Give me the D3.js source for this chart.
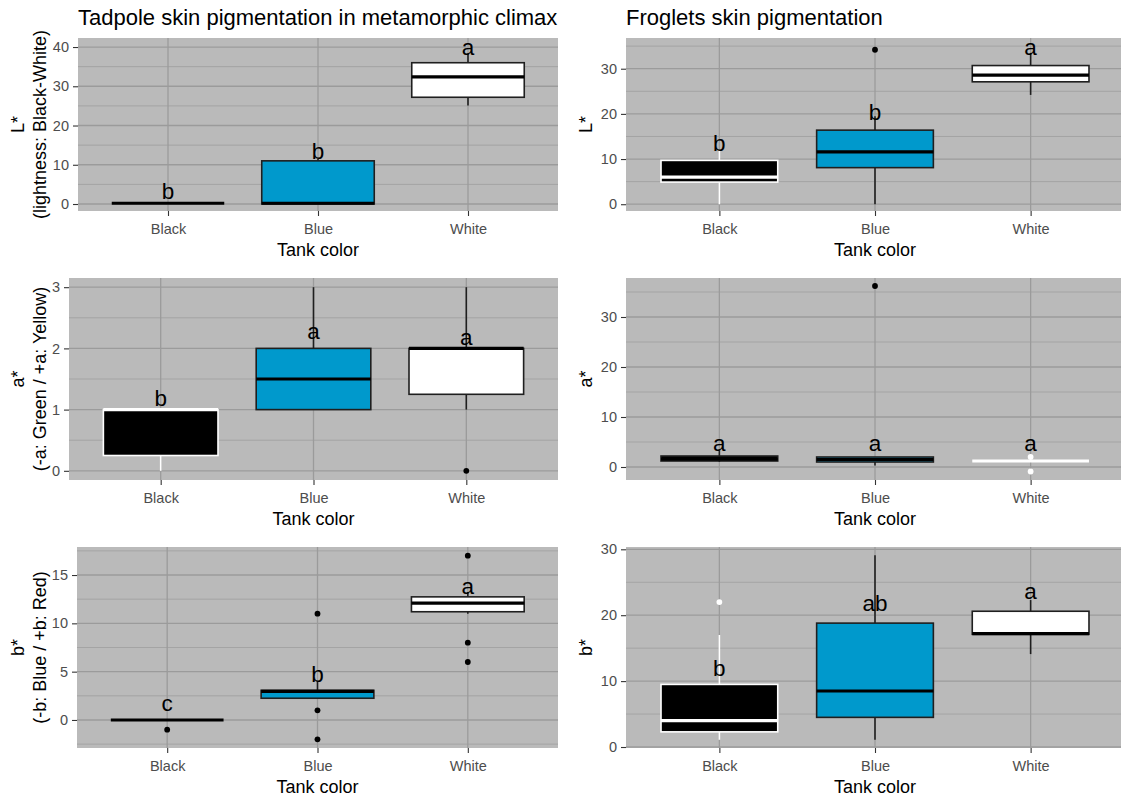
<!DOCTYPE html>
<html>
<head>
<meta charset="utf-8">
<script src="https://cdn.jsdelivr.net/npm/d3@7"></script>
<style>
  body { margin: 0; background: #ffffff; }
  svg { display: block; font-family: "Liberation Sans", Arial, Helvetica, sans-serif; }
</style>
</head>
<body>
<svg id="chart" width="1121" height="798"></svg>
<script>
// ---- data -------------------------------------------------------------
const tankColors = ["Black", "Blue", "White"];
const tankFills  = ["#000000", "#0099CC", "#FFFFFF"];

// each box: [lower whisker, Q1, median, Q3, upper whisker]
const tadpoleL_box     = [[0.2, 0.2, 0.2, 0.2, 0.2], [0, 0, 0.2, 11, 11.5], [25.1, 27.2, 32.4, 36.0, 38.3]];
const tadpoleL_out     = [[], [], []];
const tadpoleL_letters = ["b", "b", "a"];
const tadpoleL_letterY = [1.2, 11.4, 37.9];
const tadpoleL_ticks   = [0, 10, 20, 30, 40];

const frogletL_box     = [[0, 4.9, 6.0, 9.7, 12.0], [0, 8.1, 11.6, 16.4, 19.5], [24.2, 27.1, 28.6, 30.7, 33.5]];
const frogletL_out     = [[], [34.2], []];
const frogletL_letters = ["b", "b", "a"];
const frogletL_letterY = [11.85, 18.7, 33.1];
const frogletL_ticks   = [0, 10, 20, 30];

const tadpoleA_box     = [[0, 0.25, 1.0, 1.0, 1.0], [1.0, 1.0, 1.5, 2.0, 3.0], [1.0, 1.25, 2.0, 2.0, 3.0]];
const tadpoleA_out     = [[], [], [0]];
const tadpoleA_letters = ["b", "a", "a"];
const tadpoleA_letterY = [1.06, 2.15, 2.06];
const tadpoleA_ticks   = [0, 1, 2, 3];

const frogletA_box     = [[1.0, 1.2, 1.6, 2.2, 3.3], [0.3, 1.0, 1.5, 2.0, 2.0], [1.2, 1.2, 1.2, 1.2, 1.2]];
const frogletA_out     = [[], [36.2], [2.0, -0.9]];
const frogletA_letters = ["a", "a", "a"];
const frogletA_letterY = [3.2, 3.2, 3.2];
const frogletA_ticks   = [0, 10, 20, 30];

const tadpoleB_box     = [[0, 0, 0, 0, 0], [2.25, 2.25, 2.95, 3.07, 4.0], [11.0, 11.2, 12.1, 12.74, 13.25]];
const tadpoleB_out     = [[-1], [11, 1, -2], [17, 8, 6]];
const tadpoleB_letters = ["c", "b", "a"];
const tadpoleB_letterY = [0.96, 3.93, 13.0];
const tadpoleB_ticks   = [0, 5, 10, 15];

const frogletB_box     = [[1.1, 2.3, 4.0, 9.5, 17.0], [1.1, 4.5, 8.5, 18.8, 29.1], [14.1, 17.1, 17.2, 20.6, 22.3]];
const frogletB_out     = [[22], [], []];
const frogletB_letters = ["b", "ab", "a"];
const frogletB_letterY = [10.7, 20.7, 22.5];
const frogletB_ticks   = [0, 10, 20, 30];

// ---- styling & layout -------------------------------------------------
const INK = "#1F1F1F";
const PAPER = "#FFFFFF";
const PANEL_BG = "#BABABA";
const GRID_MAJOR = "#9B9B9B";
const GRID_MINOR = "#A4A4A4";

const panels = [
  { title: "Tadpole skin pigmentation in metamorphic climax", yTitle: ["L*", "(lightness: Black-White)"],
    box: tadpoleL_box, out: tadpoleL_out, letters: tadpoleL_letters, letterY: tadpoleL_letterY, ticks: tadpoleL_ticks,
    domain: [-1.78, 42.3], frame: { left: 78, right: 558, top: 38, bottom: 211 }, stroke: [INK, INK, INK] },
  { title: "Froglets skin pigmentation", yTitle: ["L*"],
    box: frogletL_box, out: frogletL_out, letters: frogletL_letters, letterY: frogletL_letterY, ticks: frogletL_ticks,
    domain: [-1.5, 36.8], frame: { left: 626, right: 1124, top: 38, bottom: 211 }, stroke: [PAPER, INK, INK] },
  { title: null, yTitle: ["a*", "(-a: Green / +a: Yellow)"],
    box: tadpoleA_box, out: tadpoleA_out, letters: tadpoleA_letters, letterY: tadpoleA_letterY, ticks: tadpoleA_ticks,
    domain: [-0.15, 3.15], frame: { left: 69, right: 558, top: 278, bottom: 480 }, stroke: [PAPER, INK, INK] },
  { title: null, yTitle: ["a*"],
    box: frogletA_box, out: frogletA_out, letters: frogletA_letters, letterY: frogletA_letterY, ticks: frogletA_ticks,
    domain: [-2.6, 37.8], frame: { left: 626, right: 1124, top: 278, bottom: 480 }, stroke: [INK, INK, PAPER] },
  { title: null, yTitle: ["b*", "(-b: Blue / +b: Red)"],
    box: tadpoleB_box, out: tadpoleB_out, letters: tadpoleB_letters, letterY: tadpoleB_letterY, ticks: tadpoleB_ticks,
    domain: [-2.9, 17.9], frame: { left: 77, right: 558, top: 547, bottom: 748 }, stroke: [INK, INK, INK] },
  { title: null, yTitle: ["b*"],
    box: frogletB_box, out: frogletB_out, letters: frogletB_letters, letterY: frogletB_letterY, ticks: frogletB_ticks,
    domain: [-0.15, 30.35], frame: { left: 626, right: 1124, top: 547, bottom: 748 }, stroke: [PAPER, INK, INK] }
];

const svg = d3.select("#chart");

panels.forEach((p, i) => {
  const f = p.frame;
  const g = svg.append("g").attr("class", "panel-" + i);

  const x = d3.scalePoint().domain(tankColors).range([f.left, f.right]).padding(0.6);
  const y = d3.scaleLinear().domain(p.domain).range([f.bottom, f.top]);

  const clipId = "clip-" + i;
  g.append("clipPath").attr("id", clipId)
    .append("rect").attr("x", f.left).attr("y", f.top)
    .attr("width", f.right - f.left).attr("height", f.bottom - f.top);

  const plot = g.append("g").attr("clip-path", `url(#${clipId})`);

  plot.append("rect")
    .attr("x", f.left).attr("y", f.top)
    .attr("width", f.right - f.left).attr("height", f.bottom - f.top)
    .attr("fill", PANEL_BG);

  // minor grid lines half-way between major ticks
  const step = p.ticks[1] - p.ticks[0];
  const minors = [];
  for (let k = -1; k < p.ticks.length; k++) {
    const v = p.ticks[0] + step * (k + 0.5);
    if (v > p.domain[0] && v < p.domain[1]) minors.push(v);
  }
  plot.selectAll("line.minor").data(minors).join("line")
    .attr("x1", f.left).attr("x2", f.right)
    .attr("y1", d => y(d)).attr("y2", d => y(d))
    .attr("stroke", GRID_MINOR).attr("stroke-width", 1);

  plot.selectAll("line.major").data(p.ticks).join("line")
    .attr("x1", f.left).attr("x2", f.right)
    .attr("y1", d => y(d)).attr("y2", d => y(d))
    .attr("stroke", GRID_MAJOR).attr("stroke-width", 1.3);

  plot.selectAll("line.vmajor").data(tankColors).join("line")
    .attr("x1", d => x(d)).attr("x2", d => x(d))
    .attr("y1", f.top).attr("y2", f.bottom)
    .attr("stroke", GRID_MAJOR).attr("stroke-width", 1.3);

  const bw = x.step() * 0.75;

  tankColors.forEach((c, j) => {
    const [lo, q1, med, q3, hi] = p.box[j];
    const cx = x(c);
    const col = p.stroke[j];
    const medCol = col === INK ? "#000000" : col;
    const bg = plot.append("g");
    // whiskers
    bg.append("line").attr("x1", cx).attr("x2", cx).attr("y1", y(q3)).attr("y2", y(hi))
      .attr("stroke", col).attr("stroke-width", 1.6);
    bg.append("line").attr("x1", cx).attr("x2", cx).attr("y1", y(q1)).attr("y2", y(lo))
      .attr("stroke", col).attr("stroke-width", 1.6);
    // box
    bg.append("rect")
      .attr("x", cx - bw / 2).attr("width", bw)
      .attr("y", y(q3)).attr("height", Math.max(0, y(q1) - y(q3)))
      .attr("fill", tankFills[j]).attr("stroke", col).attr("stroke-width", 1.6);
    // median
    bg.append("line").attr("x1", cx - bw / 2).attr("x2", cx + bw / 2)
      .attr("y1", y(med)).attr("y2", y(med))
      .attr("stroke", medCol).attr("stroke-width", 3.2);
    // outliers
    bg.selectAll("circle").data(p.out[j]).join("circle")
      .attr("cx", cx).attr("cy", d => y(d)).attr("r", 2.9)
      .attr("fill", medCol);
  });

  // group letters
  plot.selectAll("text.letter").data(tankColors).join("text")
    .attr("class", "letter")
    .attr("x", d => x(d))
    .attr("y", (d, j) => y(p.letterY[j]))
    .attr("text-anchor", "middle")
    .attr("font-size", 22.5)
    .attr("fill", "#000000")
    .text((d, j) => p.letters[j]);

  // axes
  const yAxis = d3.axisLeft(y).tickValues(p.ticks).tickSize(5).tickPadding(4).tickFormat(d3.format("d"));
  const ya = g.append("g").attr("transform", `translate(${f.left},0)`).call(yAxis);
  const xAxis = d3.axisBottom(x).tickSize(5).tickPadding(4);
  const xa = g.append("g").attr("transform", `translate(0,${f.bottom})`).call(xAxis);
  [ya, xa].forEach(a => {
    a.select(".domain").remove();
    a.selectAll(".tick line").attr("stroke", "#333333").attr("stroke-width", 1.1);
    a.selectAll(".tick text").attr("fill", "#4D4D4D").attr("font-size", 14.5)
      .attr("font-family", "\"Liberation Sans\", Arial, sans-serif");
  });
  xa.selectAll(".tick text").attr("dy", "0.95em");

  // x axis title
  g.append("text")
    .attr("x", (f.left + Math.min(f.right, 1121)) / 2 + (f.right > 1121 ? 1.5 : 0))
    .attr("y", f.bottom + 45)
    .attr("text-anchor", "middle")
    .attr("font-size", 18)
    .attr("fill", "#000000")
    .text("Tank color");

  // y axis title (one or two lines)
  const yc = (f.top + f.bottom) / 2;
  const lineX = p.yTitle.length === 2 ? [18, 39.5] : [f.left - 40];
  p.yTitle.forEach((t, k) => {
    g.append("text")
      .attr("transform", `translate(${lineX[k]},${yc}) rotate(-90)`)
      .attr("dy", "0.35em")
      .attr("text-anchor", "middle")
      .attr("font-size", 18)
      .attr("fill", "#000000")
      .text(t);
  });

  // panel title
  if (p.title) {
    g.append("text")
      .attr("x", f.left).attr("y", 25)
      .attr("font-size", 22)
      .attr("fill", "#000000")
      .text(p.title);
  }
});
</script>
</body>
</html>
